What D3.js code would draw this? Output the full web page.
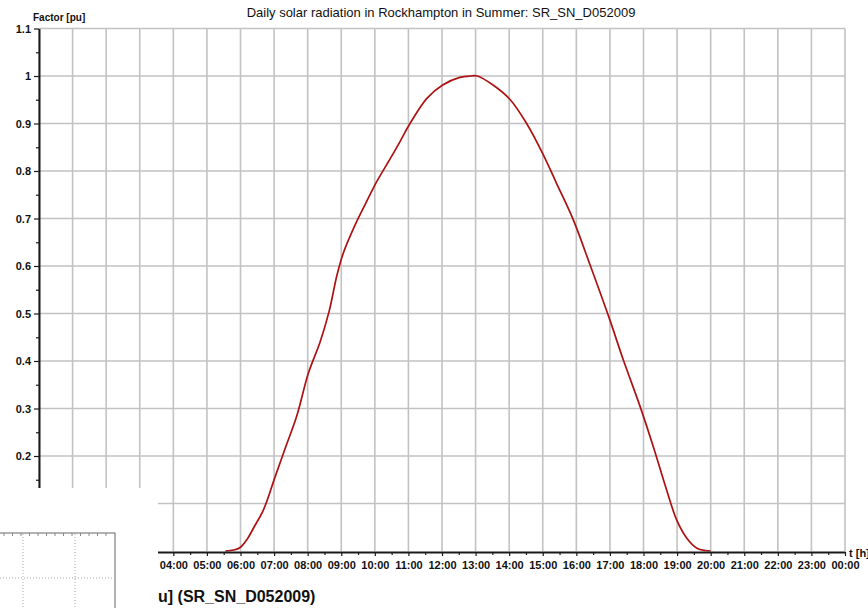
<html>
<head>
  <title>SR_SN_D052009</title>
  <script src="https://cdn.jsdelivr.net/npm/d3@7"></script>
  <style>
    body { margin: 0; background: #fff; }
    text { font-family: Arial, 'Liberation Sans', sans-serif; }
  </style>
</head>
<body>
  <div id="chart"></div>
<script>
  // time of day [h] and radiation factor [pu]
  const hours = [5.55, 5.8, 6.0, 6.2, 6.4, 6.68, 7.03, 7.35, 7.67, 8.02, 8.37, 8.64, 8.87, 9.06, 9.41, 9.75,
    10.06, 10.45, 10.75, 11.03, 11.55, 12.02, 12.53, 12.85, 13.05, 13.52, 14.02, 14.52, 15.01, 15.41,
    15.91, 16.41, 17.0, 17.4, 17.9, 18.29, 18.69, 18.99, 19.29, 19.59, 19.85, 20.0]
  const factor = [0, 0.002, 0.008, 0.025, 0.05, 0.086, 0.156, 0.22, 0.283, 0.374, 0.44, 0.505, 0.58, 0.627, 0.686, 0.735,
    0.778, 0.825, 0.862, 0.898, 0.953, 0.981, 0.997, 1.0, 1.0, 0.981, 0.951, 0.9, 0.835, 0.774,
    0.697, 0.602, 0.486, 0.402, 0.304, 0.22, 0.128, 0.065, 0.027, 0.006, 0.001, 0]

  const yTicks = [0.2, 0.3, 0.4, 0.5, 0.6, 0.7, 0.8, 0.9, 1, 1.1]
  const yGrid = [0.1, 0.2, 0.3, 0.4, 0.5, 0.6, 0.7, 0.8, 0.9, 1, 1.1]
  const xGrid = d3.range(0, 25)
  const xTickLabels = ["04:00", "05:00", "06:00", "07:00", "08:00", "09:00", "10:00", "11:00", "12:00", "13:00",
    "14:00", "15:00", "16:00", "17:00", "18:00", "19:00", "20:00", "21:00", "22:00", "23:00", "00:00"]
  const xTicks = d3.range(4, 25)

  const title = "Daily solar radiation in Rockhampton in Summer: SR_SN_D052009"

  const W = 868, H = 608
  let svg = d3.select("#chart").append("svg").attr("width", W).attr("height", H)
  svg.append("rect").attr("width", W).attr("height", H).attr("fill", "#fff")

  const x = d3.scaleLinear().domain([0, 24]).range([39, 845])
  const y = d3.scaleLinear().domain([0, 1.1]).range([551, 28.5])

  //grid
  let grid = svg.append("g")
  grid.selectAll(".gv").data(xGrid).join("line")
    .attr("x1", d => x(d)).attr("x2", d => x(d))
    .attr("y1", y(0)).attr("y2", y(1.1))
    .attr("stroke", "#c2c2c2").attr("stroke-width", 1.6)
  grid.selectAll(".gh").data(yGrid).join("line")
    .attr("x1", x(0)).attr("x2", x(24))
    .attr("y1", d => y(d)).attr("y2", d => y(d))
    .attr("stroke", "#c2c2c2").attr("stroke-width", 1.6)

  //curve
  const pts = hours.map((h, i) => [h, factor[i]])
  svg.append("path").datum(pts)
    .attr("fill", "none")
    .attr("stroke", "#ad1212")
    .attr("stroke-width", 1.7)
    .attr("d", d3.line().x(d => x(d[0])).y(d => y(d[1])).curve(d3.curveCatmullRom.alpha(0.5)))

  //y axis
  let yAx = svg.append("g").attr("transform", `translate(${x(0)},0)`)
    .call(d3.axisLeft(y).tickValues(yTicks).tickSize(5).tickSizeOuter(0).tickFormat(d3.format("")))
  let yMinor = svg.append("g").attr("transform", `translate(${x(0)},0)`)
    .call(d3.axisLeft(y).tickValues(d3.range(0.05, 1.1, 0.1)).tickSize(3).tickFormat(""))
  yMinor.select(".domain").remove()

  //x axis
  let xAx = svg.append("g").attr("transform", `translate(0,${y(0) + 1})`)
    .call(d3.axisBottom(x).tickValues(xTicks).tickSize(4).tickSizeOuter(0).tickFormat((d, i) => xTickLabels[i]))
  let xMinor = svg.append("g").attr("transform", `translate(0,${y(0) + 1})`)
    .call(d3.axisBottom(x).tickValues(d3.range(0.5, 24, 1)).tickSize(3).tickFormat(""))
  xMinor.select(".domain").remove()

  svg.selectAll(".domain").attr("stroke", "#1a1a1a").attr("stroke-width", 2)
  svg.selectAll(".tick line").attr("stroke", "#1a1a1a").attr("stroke-width", 1.2)
  svg.selectAll(".tick text").attr("fill", "#111").attr("font-size", 11).attr("font-weight", "bold")
    .attr("font-family", "Arial, 'Liberation Sans', sans-serif")
  yAx.selectAll(".tick text").attr("x", -8)
  xAx.selectAll(".tick text").attr("y", 9)

  //labels
  svg.append("text").attr("x", 441).attr("y", 17).attr("text-anchor", "middle")
    .attr("font-size", 13).attr("fill", "#111").text(title)
  svg.append("text").attr("x", 33).attr("y", 21)
    .attr("font-size", 10).attr("font-weight", "bold").attr("fill", "#111").text("Factor [pu]")
  svg.append("text").attr("x", 849).attr("y", 557)
    .attr("font-size", 11).attr("font-weight", "bold").attr("fill", "#111").text("t [h]")

  //pasted piece in the lower left corner
  let patch = svg.append("g")
  patch.append("rect").attr("x", 0).attr("y", 488).attr("width", 158).attr("height", 120).attr("fill", "#fff")
  patch.append("rect").attr("x", -2).attr("y", 533).attr("width", 117).attr("height", 80)
    .attr("fill", "none").attr("stroke", "#666").attr("stroke-width", 1)
  patch.selectAll(".pv").data([23, 75]).join("line")
    .attr("x1", d => d).attr("x2", d => d).attr("y1", 534).attr("y2", 608)
    .attr("stroke", "#aaa").attr("stroke-dasharray", "1,2")
  patch.append("line").attr("x1", 0).attr("x2", 114).attr("y1", 578).attr("y2", 578)
    .attr("stroke", "#aaa").attr("stroke-dasharray", "1,2")
  patch.selectAll(".pt").data(d3.range(4, 112, 8.5)).join("line")
    .attr("x1", d => d).attr("x2", d => d).attr("y1", 533).attr("y2", 536)
    .attr("stroke", "#888")
  patch.append("text").attr("x", 158).attr("y", 602)
    .attr("font-size", 16).attr("font-weight", "bold").attr("fill", "#111").text("u] (SR_SN_D052009)")
</script>
</body>
</html>
